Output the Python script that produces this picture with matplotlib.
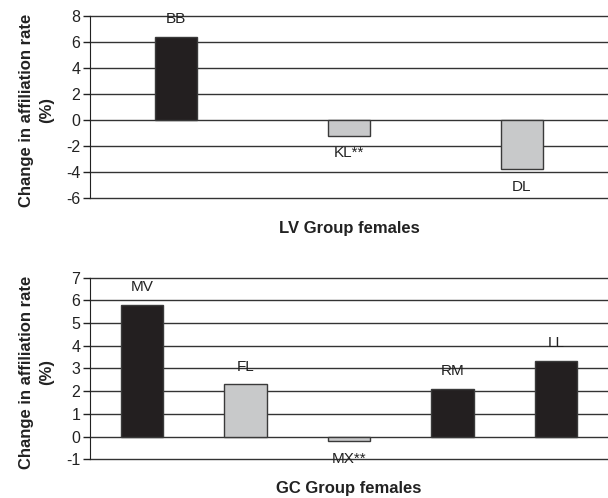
import matplotlib

matplotlib.use("Agg")
import matplotlib.pyplot as plt

# LV group
lv_names = ["BB", "KL**", "DL"]
lv_values = [6.4, -1.2, -3.8]
lv_dark = [True, False, False]

# GC group
gc_names = ["MV", "FL", "MX**", "RM", "LL"]
gc_values = [5.8, 2.3, -0.2, 2.1, 3.35]
gc_dark = [True, False, False, True, True]

DARK = "#231f20"
LIGHT = "#c8c9ca"
EDGE = "#3a3a3a"
INK = "#222222"

plt.rcParams["font.family"] = ["Liberation Sans", "DejaVu Sans"]
plt.rcParams["axes.unicode_minus"] = False


def draw_panel(fig, ax, names, values, dark, width, ylim, step, xlabel, xlabel_y):
    x = list(range(len(names)))
    colors = [DARK if d else LIGHT for d in dark]
    ax.bar(x, values, width=width, color=colors, edgecolor=EDGE,
           linewidth=1.0, zorder=3)
    ax.set_xlim(-0.5, len(names) - 0.5)
    ax.set_ylim(*ylim)
    ax.set_yticks(list(range(ylim[0], ylim[1] + 1, step)))
    ax.yaxis.grid(True, color="#333333", linewidth=1.0, zorder=0)
    for line in ax.get_ygridlines():
        line.set_clip_on(False)
    ax.set_axisbelow(True)
    ax.set_xticks([])
    for side in ["top", "right", "bottom"]:
        ax.spines[side].set_visible(False)
    ax.spines["left"].set_color(INK)
    ax.tick_params(axis="y", length=5, width=1, color=INK,
                   labelsize=11.5, labelcolor=INK, pad=2)

    # bar names above positive bars, below negative ones
    for xi, v, name in zip(x, values, names):
        dy = 12.8 if v >= 0 else -12.8
        ax.annotate(name, (xi, v), xytext=(0, dy), textcoords="offset points",
                    ha="center", va="center", fontsize=11, color=INK)

    pos = ax.get_position()
    fig.text(0.06, (pos.y0 + pos.y1) / 2 - 0.007,
             "Change in affiliation rate\n(%)", rotation=90, ha="center",
             va="center", fontsize=12, fontweight="bold", color=INK,
             linespacing=1.45)
    fig.text((pos.x0 + pos.x1) / 2, xlabel_y, xlabel, ha="center",
             va="center", fontsize=12, fontweight="bold", color=INK)


fig = plt.figure(figsize=(6.08, 4.98), dpi=100)
ax1 = fig.add_axes([0.148, 0.6024, 0.852, 0.3655])
ax2 = fig.add_axes([0.148, 0.0777, 0.852, 0.3647])

draw_panel(fig, ax1, lv_names, lv_values, lv_dark, 0.243, (-6, 8), 2,
           "LV Group females", 1 - 228 / 498)
draw_panel(fig, ax2, gc_names, gc_values, gc_dark, 0.41, (-1, 7), 1,
           "GC Group females", 1 - 488 / 498)

fig.savefig("out.png", dpi=100)
